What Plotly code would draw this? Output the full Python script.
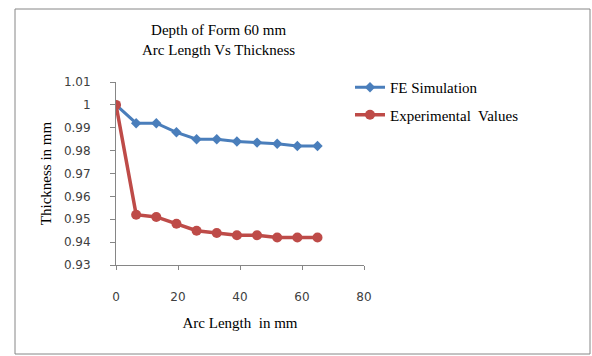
import plotly.graph_objects as go

arc_length = [0, 6.5, 13, 19.5, 26, 32.5, 39, 45.5, 52, 58.5, 65]
fe_simulation = [1.0, 0.992, 0.992, 0.988, 0.985, 0.985, 0.984, 0.9835, 0.983, 0.982, 0.982]
experimental = [1.0, 0.952, 0.951, 0.948, 0.945, 0.944, 0.943, 0.943, 0.942, 0.942, 0.942]
y_ticks = [0.93, 0.94, 0.95, 0.96, 0.97, 0.98, 0.99, 1.0, 1.01]
y_tick_text = ["0.93", "0.94", "0.95", "0.96", "0.97", "0.98", "0.99", "1", "1.01"]
x_ticks = [0, 20, 40, 60, 80]

L, R, T, B = 116, 228, 82, 91
W, H = 592, 356
pw, ph = W - L - R, H - T - B

serif = "Liberation Serif, Times New Roman, serif"

fig = go.Figure()
fig.add_trace(go.Scatter(x=arc_length, y=fe_simulation, mode="lines+markers",
                         name="FE Simulation", legendgroup="a",
                         line=dict(color="#4a7ebb", width=3),
                         marker=dict(symbol="diamond", size=8, color="#4a7ebb")))
fig.add_trace(go.Scatter(x=arc_length, y=experimental, mode="lines+markers",
                         name="Experimental  Values", legendgroup="b",
                         line=dict(color="#be4b48", width=3.5),
                         marker=dict(symbol="circle", size=10, color="#be4b48")))

axis_font = dict(family="DejaVu Sans, Verdana, sans-serif", size=12, color="#404040")
fig.update_layout(
    width=W, height=H,
    margin=dict(l=L, r=R, t=T, b=B),
    paper_bgcolor="white", plot_bgcolor="white",
    showlegend=True,
    legend=dict(x=(350 - L) / pw, y=(265 - 71) / ph, xanchor="left", yanchor="top",
                font=dict(family=serif, size=15, color="black"),
                bgcolor="rgba(0,0,0,0)", traceorder="grouped", tracegroupgap=5, itemwidth=30),
    xaxis=dict(range=[0, 80], tickvals=x_ticks, showline=True, linecolor="#868686",
               ticks="outside", ticklen=4, tickcolor="#868686", showgrid=False, zeroline=False,
               tickfont=axis_font, ticklabelstandoff=17,
               title=dict(text="Arc Length  in mm", standoff=14,
                          font=dict(family=serif, size=15, color="black"))),
    yaxis=dict(range=[0.93, 1.01], tickvals=y_ticks, ticktext=y_tick_text, showline=True,
               linecolor="#868686", ticks="outside", ticklen=5, tickcolor="#868686",
               showgrid=False, zeroline=False, tickfont=axis_font, ticklabelstandoff=17,
               title=dict(text="Thickness in mm", standoff=8,
                          font=dict(family=serif, size=15, color="black"))),
)

fig.add_annotation(x=(218 - L) / pw, y=(265 - 40) / ph, xref="paper", yref="paper",
                   text="Depth of Form 60 mm<br>Arc Length Vs Thickness", showarrow=False,
                   font=dict(family=serif, size=15, color="black"),
                   align="center", xanchor="center", yanchor="middle")

fig.add_shape(type="rect", xref="paper", yref="paper",
              x0=(15 - L) / pw, x1=(590 - L) / pw, y0=(265 - 354) / ph, y1=(265 - 9) / ph,
              line=dict(color="#868686", width=1), fillcolor="rgba(0,0,0,0)", layer="below")

fig.write_html("out.html")
